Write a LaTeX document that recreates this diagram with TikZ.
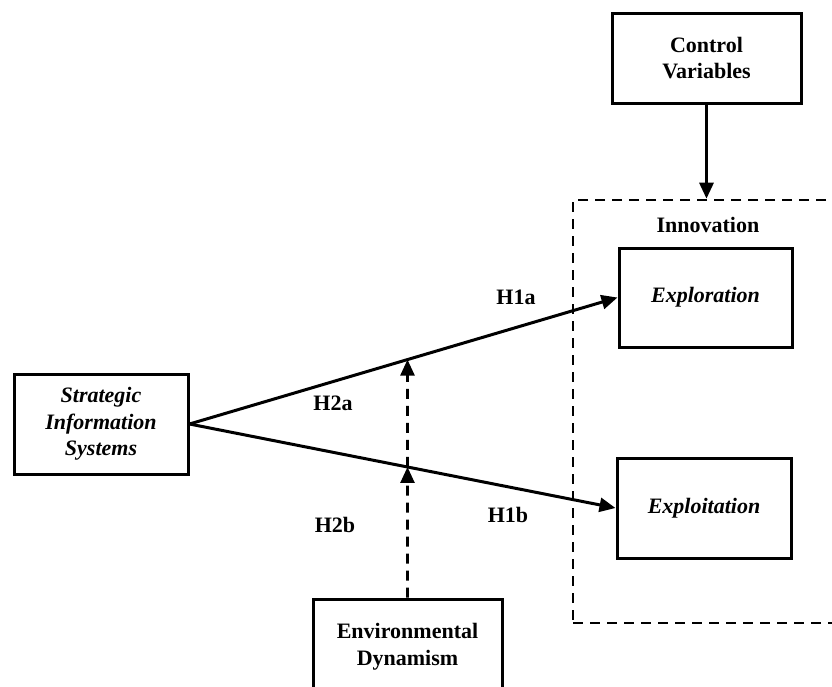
\documentclass[tikz,border=0pt]{standalone}
\usepackage{fontspec}
\setmainfont{Liberation Serif}
\usetikzlibrary{arrows.meta, intersections}

\tikzset{
  lbl/.style = {font=\fontsize{11}{13.3}\selectfont\bfseries},
  blk/.style = {lbl, draw, line width=1.5pt, align=center, inner sep=0pt},
  mod/.style = {line width=1.3pt, dash pattern=on 5pt off 3.5pt},
}

\begin{document}
\begin{tikzpicture}[x=0.5pt, y=-0.5pt, >={Triangle[length=8pt, width=7pt]}]
    \useasboundingbox (0, 0) rectangle (832, 687);
    \clip (0, 0) rectangle (832, 687);
    % boxes
    \node [blk, minimum width=94.5pt, minimum height=45pt] (ctrl) at (706.5, 58) {Control\\Variables};
    \node [mod, draw, minimum width=136pt, minimum height=211.5pt] (innov) at (709, 411.5) {};
    \node [lbl] (innovlbl) at (708, 225) {Innovation};
    \node [blk, minimum width=86.5pt, minimum height=49.5pt] (explor) at (705.5, 297.5) {\itshape Exploration};
    \node [blk, minimum width=87pt, minimum height=50pt] (exploit) at (704, 508) {\itshape Exploitation};
    \node [blk, minimum width=87pt, minimum height=50pt] (sis) at (101, 424) {\itshape Strategic\\\itshape Information\\\itshape Systems};
    \node [blk, minimum width=94.5pt, minimum height=47.5pt] (env) at (407.5, 646.5) {Environmental\\Dynamism};
    % main paths
    \draw [line width=1.5pt, ->] (ctrl.south) -- (ctrl.south |- innov.north);
    \draw [line width=1.5pt, ->, name path=upper] (sis.east) -- (explor.west);
    \draw [line width=1.5pt, ->, name path=lower] (sis.east) -- (exploit.west);
    % moderation
    \path [name path=vert] (env.north) -- ++(0, -300);
    \path [name intersections={of=upper and vert, by=hi}];
    \path [name intersections={of=lower and vert, by=lo}];
    \draw [mod, ->] (env.north) -- (lo);
    \draw [mod, ->] (lo) -- (hi);
    % hypotheses
    \node [lbl] (h1a) at (516, 297) {H1a};
    \node [lbl] (h1b) at (508, 515) {H1b};
    \node [lbl] (h2a) at (333, 403) {H2a};
    \node [lbl] (h2b) at (335, 525) {H2b};
\end{tikzpicture}
\end{document}
